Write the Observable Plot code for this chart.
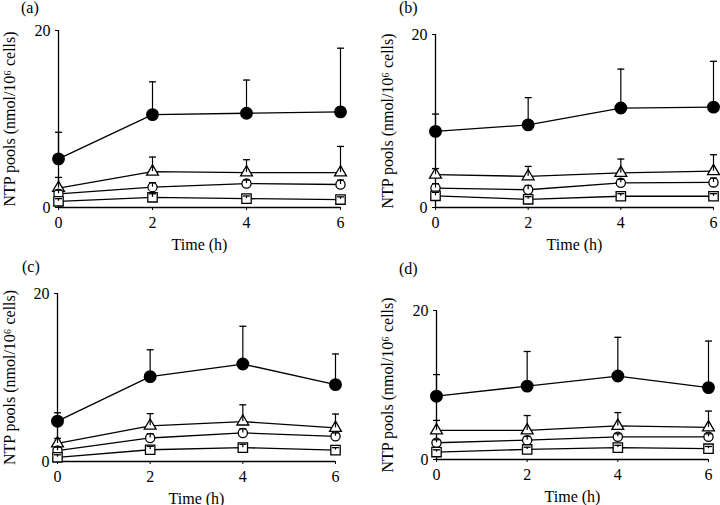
<!DOCTYPE html>
<html>
<head>
<meta charset="utf-8">
<script src="https://cdn.jsdelivr.net/npm/d3@7"></script>
<script src="https://cdn.jsdelivr.net/npm/@observablehq/plot@0.6"></script>
<style>
  body { margin: 0; background: #fff; }
  #wrap { position: relative; width: 720px; height: 505px; overflow: hidden; font-family: "Liberation Serif", "Times New Roman", serif; }
  .panel { position: absolute; }
  .panel svg, .panel svg text { font-family: "Liberation Serif", "Times New Roman", serif !important; }
  .tag { position: absolute; font-size: 16px; line-height: 16px; color: #000; }
</style>
</head>
<body>
<div id="wrap"></div>
<script>
// ---- data ----
const times = [0, 2, 4, 6];
const panelTags = ["(a)", "(b)", "(c)", "(d)"];
const yTicks = [0, 20];
const xTicks = [0, 2, 4, 6];
const yLabel = "NTP pools (nmol/10\u2076 cells)";
const xLabel = "Time (h)";

// filled circles
const filledMean = [[5.5, 10.5, 10.65, 10.8], [8.8, 9.55, 11.5, 11.6], [4.8, 10.1, 11.6, 9.15], [8.5, 9.85, 11.2, 9.65]];
const filledErr  = [[3.0, 3.7, 3.75, 7.2], [2.0, 3.15, 4.5, 5.3], [1.0, 3.2, 4.5, 3.65], [2.9, 4.65, 5.2, 6.25]];
// open triangles
const triMean = [[2.2, 4.05, 3.95, 3.95], [3.8, 3.6, 4.0, 4.2], [2.15, 4.25, 4.75, 4.0], [3.9, 3.9, 4.5, 4.3]];
const triErr  = [[1.2, 1.65, 1.45, 2.95], [0.7, 1.15, 1.6, 1.9], [0.6, 1.45, 2.0, 1.65], [1.35, 2.0, 1.8, 2.2]];
// open circles
const circMean = [[1.55, 2.3, 2.7, 2.6], [2.25, 2.05, 2.85, 2.9], [1.3, 2.8, 3.4, 3.0], [2.25, 2.6, 3.05, 3.05]];
const circErr  = [[0.4, 0.5, 0.4, 0.5], [0.5, 0.5, 0.4, 0.5], [0.4, 0.5, 0.5, 0.4], [0.4, 0.5, 0.4, 0.4]];
// open squares
const sqMean = [[0.7, 1.15, 1.0, 0.9], [1.35, 0.95, 1.3, 1.3], [0.5, 1.4, 1.65, 1.35], [1.0, 1.35, 1.6, 1.45]];
const sqErr  = [[0.3, 0.4, 0.3, 0.3], [0.4, 0.3, 0.3, 0.3], [0.3, 0.4, 0.4, 0.3], [0.3, 0.3, 0.3, 0.3]];

// ---- layout (per panel) ----
const layout = [
  {left: 0,   top: 0,   width: 360, height: 252, mL: 58, mR: 20, mT: 30, mB: 45, yOff: 55, tagX: 21, tagY: 0},
  {left: 360, top: 0,   width: 360, height: 252, mL: 75, mR: 7,  mT: 34, mB: 45, yOff: 54, tagX: 39, tagY: 0},
  {left: 0,   top: 252, width: 360, height: 253, mL: 57, mR: 25, mT: 41, mB: 44, yOff: 54, tagX: 22, tagY: 7},
  {left: 360, top: 252, width: 360, height: 253, mL: 76, mR: 12, mT: 58, mB: 46, yOff: 55, tagX: 39, tagY: 9}
];

const capSymbol = {
  draw(ctx, size) { ctx.moveTo(-3.5, 0); ctx.lineTo(3.5, 0); }
};

const wrap = document.getElementById("wrap");
const serif = '"Liberation Serif", "Times New Roman", serif';

function rowsFor(p) {
  const series = [
    {s: "filled", m: filledMean[p], e: filledErr[p]},
    {s: "tri", m: triMean[p], e: triErr[p]},
    {s: "circ", m: circMean[p], e: circErr[p]},
    {s: "sq", m: sqMean[p], e: sqErr[p]}
  ];
  const rows = [];
  for (const ser of series) {
    times.forEach((t, i) => rows.push({t, v: ser.m[i], e: ser.e[i], s: ser.s}));
  }
  return rows;
}

layout.forEach((L, p) => {
  const rows = rowsFor(p);
  const by = s => rows.filter(d => d.s === s);
  const chart = Plot.plot({
    width: L.width,
    height: L.height,
    marginLeft: L.mL,
    marginRight: L.mR,
    marginTop: L.mT,
    marginBottom: L.mB,
    style: {fontFamily: serif, fontSize: "16px", color: "#000", background: "transparent", overflow: "visible"},
    x: {domain: [0, 6]},
    y: {domain: [0, 20]},
    marks: [
      Plot.ruleX([0], {y1: 0, y2: 20, stroke: "#000", strokeWidth: 1.3}),
      Plot.ruleY([0], {x1: 0, x2: 6, stroke: "#000", strokeWidth: 1.3}),
      Plot.axisX({ticks: xTicks, tickSize: 3, tickPadding: 6, tickFormat: d => String(d), stroke: "#000", fontFamily: serif, label: xLabel, labelAnchor: "center", labelOffset: 42, labelArrow: "none"}),
      Plot.axisY({ticks: yTicks, tickSize: 3, tickPadding: 5, tickFormat: d => String(d), stroke: "#000", fontFamily: serif, label: yLabel, labelAnchor: "center", labelOffset: L.yOff, labelArrow: "none"}),
      Plot.line(rows, {x: "t", y: "v", z: "s", stroke: "#000", strokeWidth: 1.3}),
      Plot.dot(by("filled"), {x: "t", y: "v", r: 5.7, symbol: "circle", fill: "#000", stroke: "#000"}),
      Plot.dot(by("tri"), {x: "t", y: "v", r: 4.4, symbol: "triangle", fill: "#fff", stroke: "#000", strokeWidth: 1.3}),
      Plot.dot(by("circ"), {x: "t", y: "v", r: 4.6, symbol: "circle", fill: "#fff", stroke: "#000", strokeWidth: 1.3}),
      Plot.dot(by("sq"), {x: "t", y: "v", r: 5.3, symbol: "square", fill: "#fff", stroke: "#000", strokeWidth: 1.3}),
      Plot.ruleX(rows, {x: "t", y1: "v", y2: d => d.v + d.e, stroke: "#000", strokeWidth: 1.2}),
      Plot.dot(rows, {x: "t", y: d => d.v + d.e, symbol: capSymbol, r: 3, fill: "none", stroke: "#000", strokeWidth: 1.3})
    ]
  });
  const div = document.createElement("div");
  div.className = "panel";
  div.style.left = L.left + "px";
  div.style.top = L.top + "px";
  div.appendChild(chart);
  wrap.appendChild(div);
  const tag = document.createElement("div");
  tag.className = "tag";
  tag.style.left = (L.left + L.tagX) + "px";
  tag.style.top = (L.top + L.tagY) + "px";
  tag.textContent = panelTags[p];
  wrap.appendChild(tag);
});
</script>
</body>
</html>
